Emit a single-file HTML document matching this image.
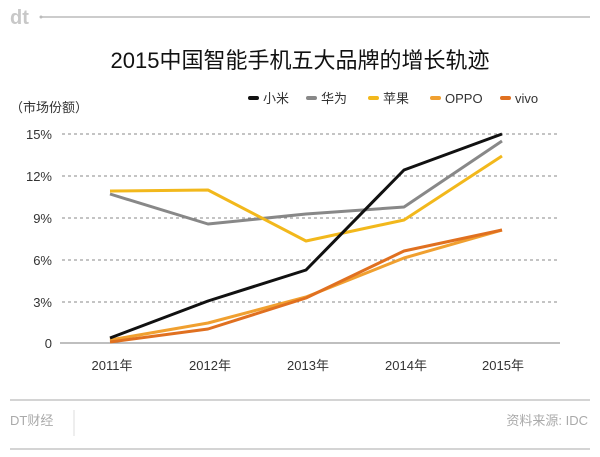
<!DOCTYPE html>
<html><head><meta charset="utf-8"><style>
body{margin:0;background:#fff;width:600px;height:452px;overflow:hidden;font-family:"Liberation Sans","Noto Sans CJK SC",sans-serif;}
</style></head><body>
<svg width="600" height="452" xmlns="http://www.w3.org/2000/svg" font-family="Liberation Sans, Noto Sans CJK SC, sans-serif">
<text x="10" y="24" font-size="20" font-weight="bold" fill="#c8c8c8">dt</text>
<line x1="40" y1="17" x2="590" y2="17" stroke="#bbb" stroke-width="1.5"/>
<circle cx="41" cy="17" r="1.5" fill="#bbb"/>
<text x="300" y="68" font-size="22" text-anchor="middle" fill="#111">2015中国智能手机五大品牌的增长轨迹</text>
<text x="10" y="112" font-size="13" fill="#333">（市场份额）</text>
<g font-size="13" fill="#333">
<rect x="248" y="96" width="11" height="4" rx="2" fill="#111"/><text x="263" y="103">小米</text>
<rect x="306" y="96" width="11" height="4" rx="2" fill="#888"/><text x="321" y="103">华为</text>
<rect x="368" y="96" width="11" height="4" rx="2" fill="#f2b81c"/><text x="383" y="103">苹果</text>
<rect x="430" y="96" width="11" height="4" rx="2" fill="#f0a030"/><text x="445" y="103">OPPO</text>
<rect x="500" y="96" width="11" height="4" rx="2" fill="#e07020"/><text x="515" y="103">vivo</text>
</g>
<g stroke="#888" stroke-width="1" stroke-dasharray="3,3">
<line x1="62" y1="134" x2="560" y2="134"/><line x1="62" y1="176" x2="560" y2="176"/>
<line x1="62" y1="218" x2="560" y2="218"/><line x1="62" y1="260" x2="560" y2="260"/>
<line x1="62" y1="302" x2="560" y2="302"/>
</g>
<line x1="60" y1="343" x2="560" y2="343" stroke="#999" stroke-width="1.2"/>
<g font-size="13" fill="#333" text-anchor="end">
<text x="52" y="139">15%</text><text x="52" y="181">12%</text><text x="52" y="223">9%</text>
<text x="52" y="265">6%</text><text x="52" y="307">3%</text><text x="52" y="348">0</text>
</g>
<g font-size="13" fill="#333" text-anchor="middle">
<text x="112" y="370">2011年</text><text x="210" y="370">2012年</text><text x="308" y="370">2013年</text><text x="406" y="370">2014年</text><text x="503" y="370">2015年</text>
</g>
<g fill="none" stroke-width="3" stroke-linejoin="round">
<polyline stroke="#888" points="110,194 208,224 306,214 404,207 502,141"/>
<polyline stroke="#f2b81c" points="110,191 208,190 306,241 404,220 502,156"/>
<polyline stroke="#f0a030" points="110,340 208,323 306,297 404,258 502,230"/>
<polyline stroke="#e07020" points="110,342 208,329 306,298 404,251 502,230"/>
<polyline stroke="#111" points="110,338 208,301 306,270 404,170 502,134"/>
</g>
<line x1="10" y1="400" x2="590" y2="400" stroke="#aaa" stroke-width="1"/>
<text x="10" y="425" font-size="13" fill="#aaa">DT财经</text>
<line x1="74" y1="410" x2="74" y2="436" stroke="#ddd" stroke-width="1"/>
<text x="588" y="425" font-size="13" fill="#aaa" text-anchor="end">资料来源: IDC</text>
<line x1="10" y1="449" x2="590" y2="449" stroke="#aaa" stroke-width="1"/>
</svg>
</body></html>
